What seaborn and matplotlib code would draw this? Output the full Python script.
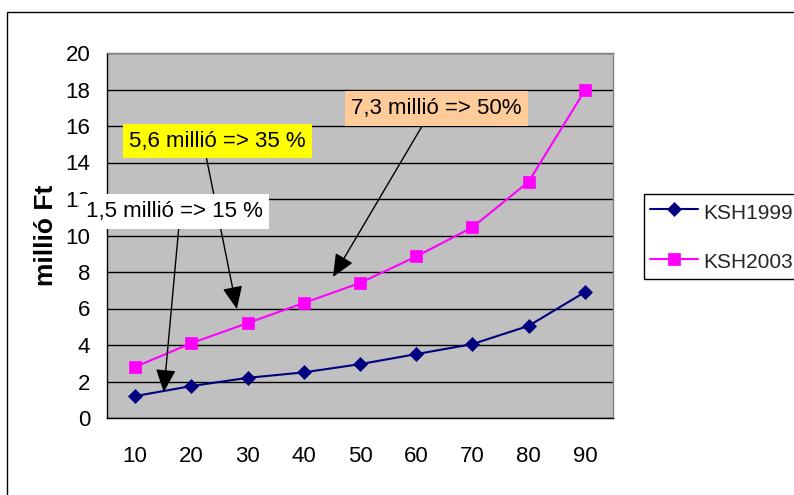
import numpy as np
import pandas as pd
import matplotlib
matplotlib.use("Agg")
import matplotlib.pyplot as plt
import seaborn as sns
from matplotlib.patches import Rectangle
from matplotlib.ticker import FixedLocator

sns.set_theme(style="white")
plt.rcParams["font.family"] = ["Liberation Sans", "DejaVu Sans"]

# data
ages = ["10", "20", "30", "40", "50", "60", "70", "80", "90"]
ksh1999 = [1.2, 1.75, 2.2, 2.5, 2.95, 3.5, 4.05, 5.05, 6.9]
ksh2003 = [2.8, 4.1, 5.2, 6.3, 7.4, 8.85, 10.45, 12.95, 17.95]
series_names = ["KSH1999", "KSH2003"]
series_colors = ["#000080", "#FF00FF"]

df = pd.DataFrame({
    "kor": ages * 2,
    "ertek": ksh1999 + ksh2003,
    "sorozat": [series_names[0]] * len(ages) + [series_names[1]] * len(ages),
})

W, H = 794, 495
fig = plt.figure(figsize=(W / 100, H / 100), dpi=100)
ax = fig.add_axes([107 / W, 1 - 418 / H, 506 / W, 365 / H])
ax.set_facecolor("#C0C0C0")

sns.lineplot(data=df, x="kor", y="ertek", hue="sorozat", style="sorozat",
             palette=dict(zip(series_names, series_colors)),
             markers={"KSH1999": "D", "KSH2003": "s"}, dashes=False,
             linewidth=1.5, sort=False, legend=False, ax=ax)

series_lines = ax.lines[:2]
for line, ms in zip(series_lines, [7.5, 8]):
    line.set_markersize(ms)
    line.set_markeredgecolor(line.get_color())
    line.set_markeredgewidth(0.5)

# axes
ax.set_xlim(-0.5, 8.5)
ax.set_ylim(0, 20)
ax.set_yticks(range(0, 21, 2))
ax.yaxis.grid(True, color="black", lw=1)
ax.xaxis.grid(False)
ax.set_axisbelow(True)
ax.xaxis.set_minor_locator(FixedLocator(np.arange(-0.5, 9, 1)))
ax.tick_params(axis="x", which="major", length=0, pad=20, labelsize=16)
ax.tick_params(axis="x", which="minor", length=6, width=1, color="black", direction="out")
ax.tick_params(axis="y", length=5, width=1, color="black", direction="out", pad=7, labelsize=16)
ax.tick_params(colors="black", which="both")
for side in ["left", "bottom"]:
    ax.spines[side].set_color("black")
    ax.spines[side].set_linewidth(1)
for side in ["top", "right"]:
    ax.spines[side].set_color("#808080")
    ax.spines[side].set_linewidth(1)

ax.set_xlabel("")
ax.set_ylabel("millió Ft", fontsize=19, fontweight="bold", color="black")
ax.yaxis.set_label_coords(-0.097, 0.5)

# callouts
notes = [
    ("7,3 millió => 50%", "#FFCC99", (3.52, 7.73), (436.5, H - 108.5), 0.44),
    ("5,6 millió => 35 %", "#FFFF00", (1.81, 5.97), (217.5, H - 141), 0.43),
    ("1,5 millió => 15 %", "white", (0.51, 1.42), (174, H - 211.5), 0.53),
]
for text, fc, tip, pos, rel in notes:
    ax.annotate(text, xy=tip, xycoords="data", xytext=pos, textcoords="figure pixels",
                ha="center", va="center", fontsize=16, color="black",
                bbox=dict(boxstyle="square,pad=0.3", fc=fc, ec="none"),
                arrowprops=dict(arrowstyle="-|>,head_length=0.5,head_width=0.22",
                                mutation_scale=28, color="black", lw=1,
                                shrinkA=0, shrinkB=0, relpos=(rel, 0)),
                annotation_clip=False, zorder=5)

leg = fig.legend(series_lines, series_names, loc="upper left",
                 bbox_to_anchor=(644 / W, 1 - 194 / H), bbox_transform=fig.transFigure,
                 frameon=True, fancybox=False, edgecolor="black", framealpha=1,
                 fontsize=15, handlelength=2.3, handleheight=1.3, handletextpad=0.24,
                 borderpad=0.3, labelspacing=1.3, borderaxespad=0)
leg.get_frame().set_linewidth(1)

# outer chart border
top = 1 - 12 / H
fig.add_artist(Rectangle((7 / W, -0.2), 1.5, top + 0.2, transform=fig.transFigure,
                         fill=False, ec="black", lw=1))

fig.savefig("out.png", dpi=100, facecolor="white")
